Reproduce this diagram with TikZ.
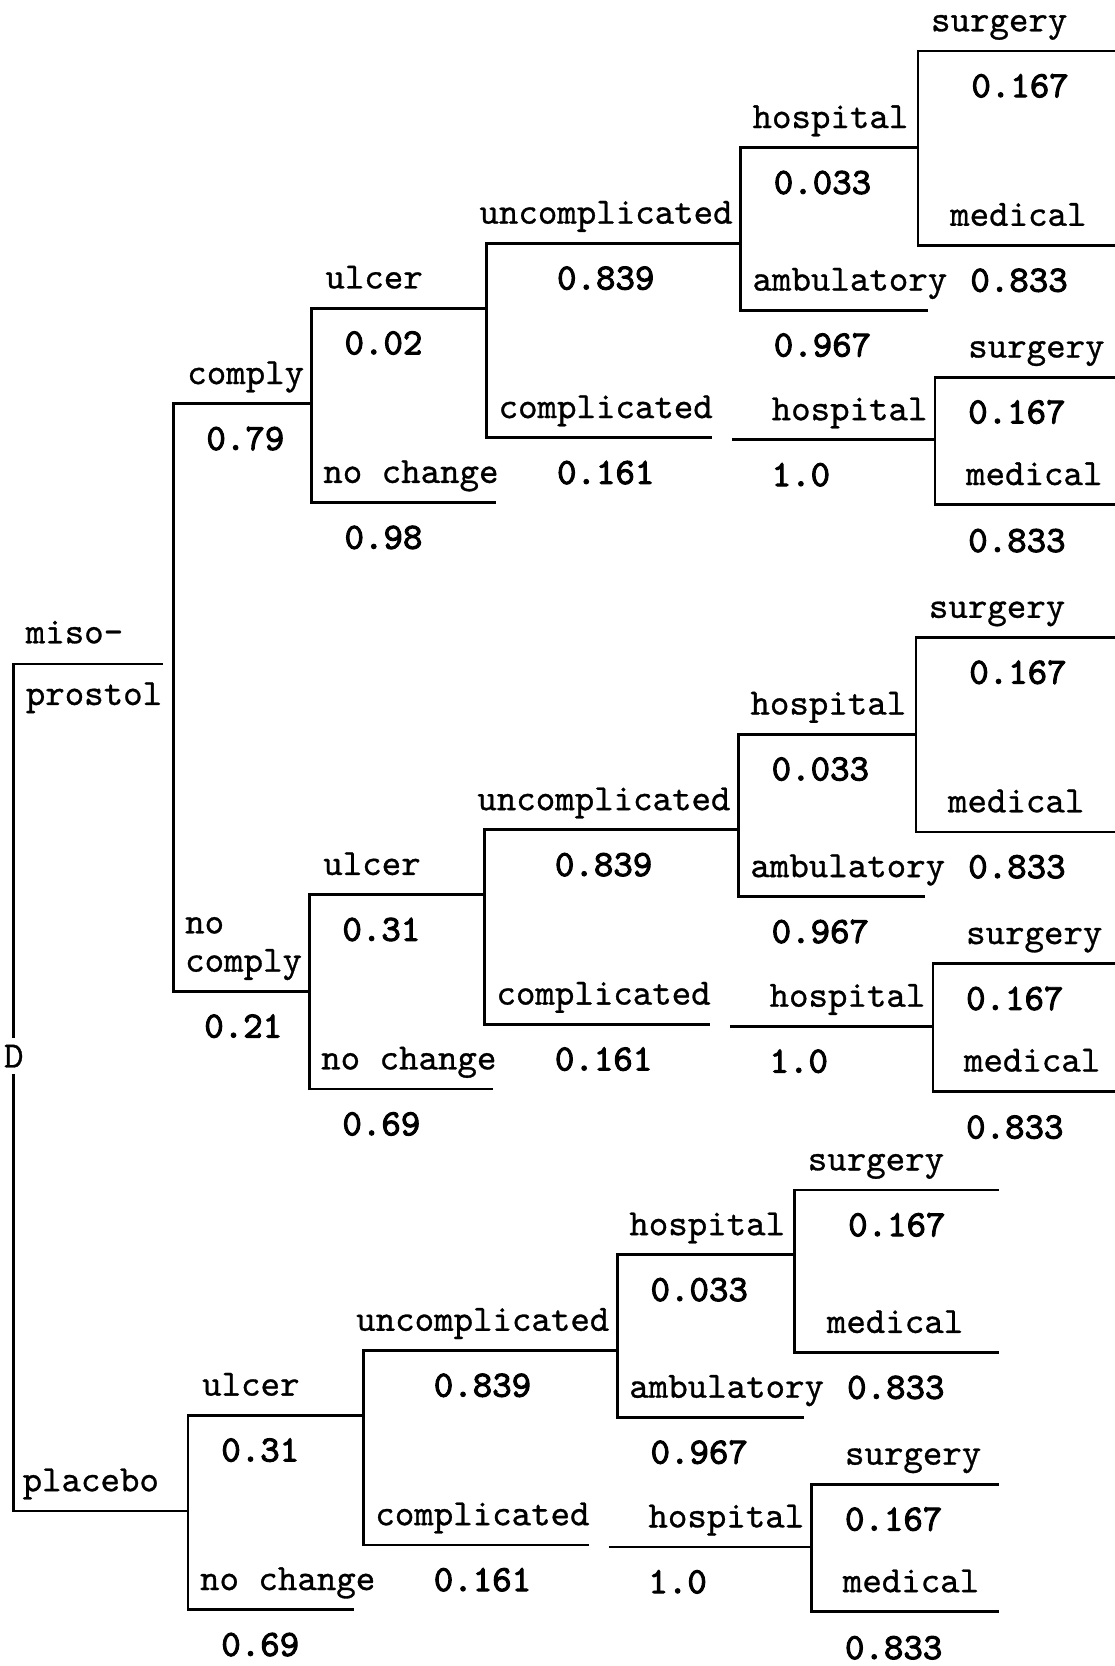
\documentclass[tikz,border=0pt]{standalone}
\usepackage{fontspec}
\newfontfamily\lblfont{lmmono10-regular.otf}[FakeBold=0.8]
\newfontfamily\numfont{lmmono10-regular.otf}[FakeBold=2.6]

% one ulcer subtree, drawn from the point where its incoming branch ends
% #1 ulcer, #2 no change, #3 height of the surgery branch, #4 end of no change
\newcommand{\ulcertree}[4]{%
  \draw (165,-90) -- (0,-90) -- (0,93) -- (#4,93);
  \node[lbl]  (ulcer)     at (12,-111) {ulcer};
  \node[pnum] (pulcer)    at (30,-50)  {#1};
  \node[lbl]  (nochange)  at (10,72)   {no change};
  \node[pnum] (pnochange) at (30,133)  {#2};
  \draw (404,-151) -- (165,-151) -- (165,32) -- (377,32);
  \node[lbl]  (uncompl)   at (157,-172) {uncomplicated};
  \node[pnum] (puncompl)  at (230,-111) {0.839};
  \node[lbl]  (compl)     at (175,11)   {complicated};
  \node[pnum] (pcompl)    at (230,72)   {0.161};
  \draw (571,-241) -- (404,-241) -- (404,-88) -- (580,-88);
  \node[lbl]  (hosp)      at (414,-262) {hospital};
  \node[pnum] (phosp)     at (434,-201) {0.033};
  \node[lbl]  (amb)       at (414,-109) {ambulatory};
  \node[pnum] (pamb)      at (434,-48)  {0.967};
  \draw (763,#3) -- (571,#3) -- (571,-149) -- (763,-149);
  \node[lbl]  (surg)      at (582,{#3-21}) {surgery};
  \node[pnum] (psurg)     at (620,{#3+40}) {0.167};
  \node[lbl]  (med)       at (600,-170) {medical};
  \node[pnum] (pmed)      at (619,-109) {0.833};
  \draw (396,34) -- (587,34);
  \node[lbl]  (hospc)     at (432,13)   {hospital};
  \node[pnum] (phospc)    at (432,74)   {1.0};
  \draw (763,-25) -- (587,-25) -- (587,95) -- (763,95);
  \node[lbl]  (surgc)     at (617,-46)  {surgery};
  \node[pnum] (psurgc)    at (617,15)   {0.167};
  \node[lbl]  (medc)      at (615,74)   {medical};
  \node[pnum] (pmedc)     at (617,136)  {0.833};
}

\begin{document}
\begin{tikzpicture}[x=1pt,y=-1pt,line width=2.6pt,
    font=\fontsize{34.9}{31}\selectfont\lblfont,
    lbl/.style={anchor=base west,inner sep=0pt,yshift=-2.5pt},
    pnum/.style={anchor=base west,inner sep=0pt,yshift=-3.5pt,
      font=\fontsize{34.9}{31}\selectfont\numfont}]
  \useasboundingbox (0,0) rectangle (1049,1568);
  \fill[white] (0,0) rectangle (1049,1568);
  % decision node
  \node[inner sep=5pt] (D) at (13,994) {D};
  \draw (153,625) -- (13,625) -- (D);
  \draw (D) -- (13,1422) -- (177,1422);
  \node[lbl] (miso)    at (23,603)  {miso-};
  \node[lbl] (prostol) at (23,661)  {prostol};
  \node[lbl] (placebo) at (20,1401) {placebo};
  % compliance
  \draw (293,380) -- (163,380) -- (163,933) -- (291,933);
  \node[lbl]  (comply)    at (175,359) {comply};
  \node[pnum] (pcomply)   at (193,420) {0.79};
  \node[lbl]  (no)        at (173,876) {no};
  \node[lbl]  (nocomply)  at (173,912) {comply};
  \node[pnum] (pnocomply) at (191,973) {0.21};
  % the three ulcer subtrees
  \begin{scope}[shift={(293,380)},name prefix=c-]
    \ulcertree{0.02}{0.98}{-332}{174}
  \end{scope}
  \begin{scope}[shift={(291,932)},name prefix=n-]
    \ulcertree{0.31}{0.69}{-332}{173}
  \end{scope}
  \begin{scope}[shift={(177,1422)},name prefix=p-]
    \ulcertree{0.31}{0.69}{-302}{156}
  \end{scope}
\end{tikzpicture}
\end{document}
